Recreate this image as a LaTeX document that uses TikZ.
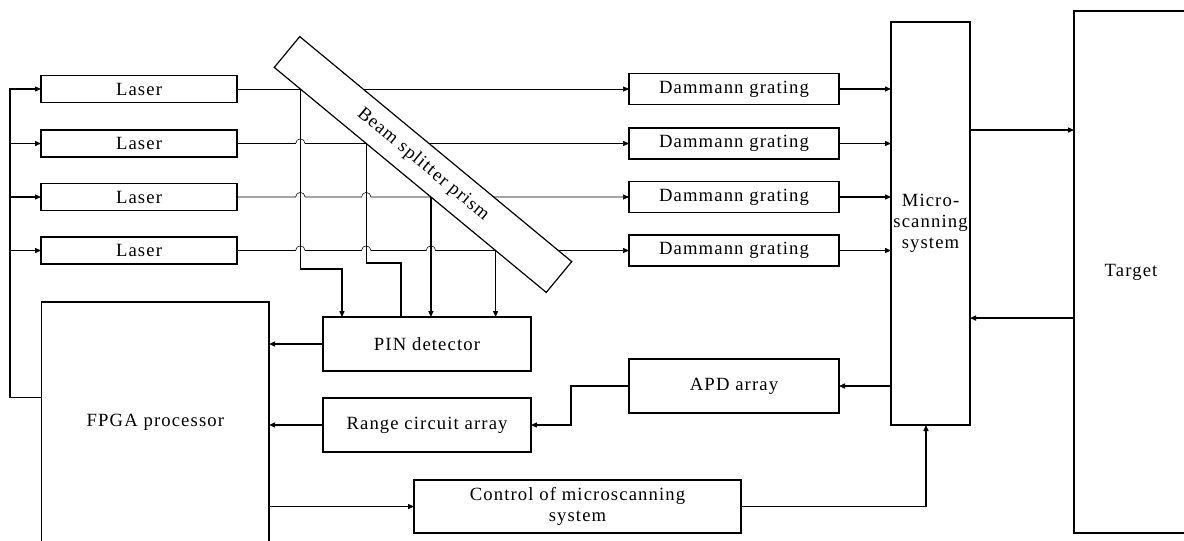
\documentclass[tikz,border=0pt]{standalone}
\usepackage{fontspec}
\setmainfont{Liberation Serif}
\newfontfamily\labelfont{Liberation Serif}[LetterSpace=6]
\usetikzlibrary{arrows.meta,calc,backgrounds}
\begin{document}
\begin{tikzpicture}[x=0.75pt,y=-0.75pt,line width=0.9pt,
  font=\labelfont\fontsize{14}{15.8}\selectfont,
  box/.style={draw,fill=white,inner sep=0pt,outer sep=0pt,align=center},
  wh/.style 2 args={minimum width=#1*0.75pt,minimum height=#2*0.75pt},
  arr/.style={-{Triangle[length=4.5pt,width=3.8pt]}}]
\useasboundingbox (0,0) rectangle (1184,540);
\clip (0,0) rectangle (1184,540);

% lasers
\node[box,wh={196}{27}] (las1) at (139,89)    {Laser};
\node[box,wh={196}{27}] (las2) at (139,143.5) {Laser};
\node[box,wh={196}{27}] (las3) at (139,197)   {Laser};
\node[box,wh={196}{27}] (las4) at (139,250.5) {Laser};

% Dammann gratings
\node[box,wh={210}{31}] (dg1) at (734,89)    {Dammann grating};
\node[box,wh={210}{31}] (dg2) at (734,143.5) {Dammann grating};
\node[box,wh={210}{31}] (dg3) at (734,197)   {Dammann grating};
\node[box,wh={210}{31}] (dg4) at (734,250.5) {Dammann grating};

% other blocks
\node[box,wh={79}{403}]  (micro)  at (930.5,223.5) {Micro-\\scanning\\system};
\node[box,wh={114}{522}] (target) at (1131,272)    {Target};
\node[box,wh={208}{54}]  (pin)    at (427,344)     {PIN detector};
\node[box,wh={208}{54}]  (range)  at (427,425)     {Range circuit array};
\node[box,wh={210}{54}]  (apd)    at (734,386)     {APD array};
\node[box,wh={327}{53}]  (ctrl)   at (577.5,506.5) {Control of microscanning\\system};
\node[box,wh={227.3}{240}] (fpga) at (155.4,422)   {FPGA processor};

% beam splitter prism
\node[box,wh={353}{40},rotate=-39.6] (prism) at (423,164.5) {Beam splitter prism};

% split points on the lower edge of the prism
\coordinate (I1) at (intersection of prism.south west--prism.south east and las1.east--dg1.west);
\coordinate (I2) at (intersection of prism.south west--prism.south east and las2.east--dg2.west);
\coordinate (I3) at (intersection of prism.south west--prism.south east and las3.east--dg3.west);
\coordinate (I4) at (intersection of prism.south west--prism.south east and las4.east--dg4.west);

% laser beams through the prism (behind it), with hops over the taps
\begin{scope}[on background layer]
\draw[arr] (las1.east) -- (dg1.west);
\draw[arr] (las2.east)
  -- ($(I1|-las2.east)+(-3.5pt,0)$) arc[start angle=180,end angle=0,radius=3.5pt]
  -- (dg2.west);
\draw[arr] (las3.east)
  -- ($(I1|-las3.east)+(-3.5pt,0)$) arc[start angle=180,end angle=0,radius=3.5pt]
  -- ($(I2|-las3.east)+(-3.5pt,0)$) arc[start angle=180,end angle=0,radius=3.5pt]
  -- (dg3.west);
\draw[arr] (las4.east)
  -- ($(I1|-las4.east)+(-3.5pt,0)$) arc[start angle=180,end angle=0,radius=3.5pt]
  -- ($(I2|-las4.east)+(-3.5pt,0)$) arc[start angle=180,end angle=0,radius=3.5pt]
  -- ($(I3|-las4.east)+(-3.5pt,0)$) arc[start angle=180,end angle=0,radius=3.5pt]
  -- (dg4.west);
\end{scope}

% taps to the PIN detector
\coordinate (b1) at (342,269);
\coordinate (b2) at (401,263);
\draw[arr] (I1) |- (b1) -- (b1 |- pin.north);
\draw (I2) |- (b2) -- (b2 |- pin.north);
\draw[arr] (I3) -- (I3 |- pin.north);
\draw[arr] (I4) -- (I4 |- pin.north);

% gratings to micro-scanning system
\draw[arr] (dg1.east) -- (dg1.east -| micro.west);
\draw[arr] (dg2.east) -- (dg2.east -| micro.west);
\draw[arr] (dg3.east) -- (dg3.east -| micro.west);
\draw[arr] (dg4.east) -- (dg4.east -| micro.west);

% micro-scanning system and target
\coordinate (mt) at ([yshift=70.1pt]micro.east);
\draw[arr] (mt) -- (mt -| target.west);
\coordinate (tm) at ([yshift=-70.9pt]micro.east);
\draw[arr] (tm -| target.west) -- (tm);

% receiving chain
\draw[arr] (apd.east -| micro.west) -- (apd.east);
\draw[arr] (apd.west) -- ++(-43.5pt,0) |- (range.east);
\draw[arr] (pin.west) -- (pin.west -| fpga.east);
\draw[arr] (range.west) -- (range.west -| fpga.east);

% control path
\draw[arr] (ctrl.west -| fpga.east) -- (ctrl.west);
\draw[arr] (ctrl.east) -| ([xshift=-3.4pt]micro.south);

% trigger bus from the FPGA to the lasers
\coordinate (fb) at ([yshift=18.4pt]fpga.west);
\coordinate (bus) at ([xshift=-23.8pt]fb);
\draw[arr] (fb) -- (bus) |- (las1.west);
\draw[arr] (bus |- las2.west) -- (las2.west);
\draw[arr] (bus |- las3.west) -- (las3.west);
\draw[arr] (bus |- las4.west) -- (las4.west);
\end{tikzpicture}
\end{document}
